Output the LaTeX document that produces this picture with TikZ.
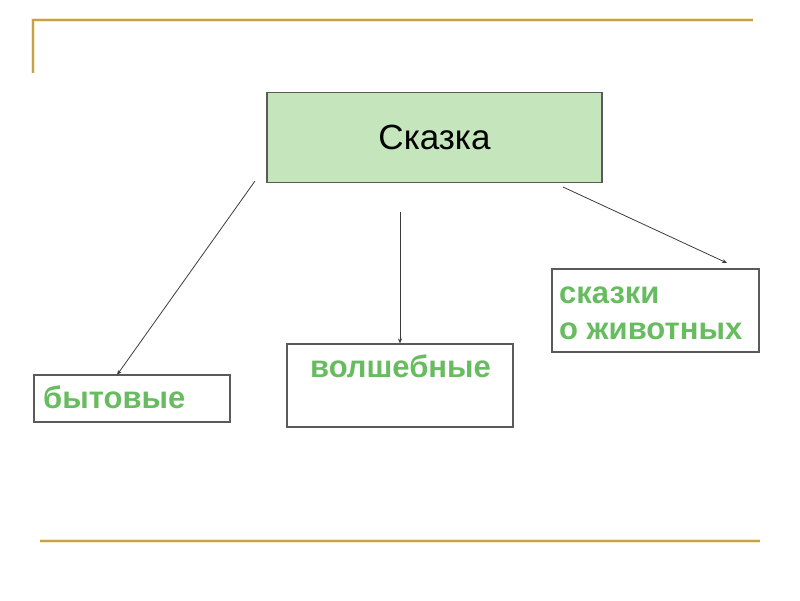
\documentclass[tikz,border=0pt]{standalone}
\usepackage{fontspec}
\setmainfont{Liberation Sans}
\usetikzlibrary{arrows.meta}
\definecolor{gold}{RGB}{196,160,82}
\definecolor{goldglow}{RGB}{250,236,190}
\definecolor{mainfill}{RGB}{197,229,189}
\definecolor{boxline}{RGB}{90,90,90}
\definecolor{greentext}{RGB}{104,188,96}
\definecolor{arrowgray}{RGB}{60,60,60}
\tikzset{
  goldline/.style={draw=gold, line width=2pt},
  glowline/.style={draw=goldglow, line width=4pt},
  mainbox/.style={draw=boxline, fill=mainfill, line width=1.1pt, rectangle, inner sep=0pt,
    font=\fontsize{35}{42}\selectfont},
  catbox/.style={draw=boxline, fill=white, line width=1.1pt, rectangle, inner sep=0pt},
  gtext/.style={text=greentext, inner sep=0pt, font=\bfseries\fontsize{31}{36}\selectfont, align=left},
  conn/.style={draw=arrowgray, line width=0.8pt, -{Stealth[length=5pt,width=4pt]}}
}
\begin{document}
\begin{tikzpicture}[x=1pt,y=-1pt]
\useasboundingbox (0,0) rectangle (800,600);
% decorative gold lines
\coordinate (tl) at (33,20);
\coordinate (tr) at (753,20);
\coordinate (lb) at (33,73);
\coordinate (bl) at (40,541);
\coordinate (br) at (760,541);
\draw[glowline] (lb) -- (tl) -- (tr);
\draw[glowline] (bl) -- (br);
\draw[goldline] (lb) -- (tl) -- (tr);
\draw[goldline] (bl) -- (br);
% main box
\node[mainbox, minimum width=335pt, minimum height=90pt] (main) at (434.5,137.5) {Сказка};
% category boxes
\node[catbox, minimum width=196pt, minimum height=47pt] (byt) at (132,398.5) {};
\node[gtext, anchor=base west] (bytt) at (43,408) {бытовые};
\node[catbox, minimum width=226pt, minimum height=83pt] (vol) at (400,385.5) {};
\node[gtext, anchor=base] (volt) at (400.5,377) {волшебные};
\node[catbox, minimum width=207pt, minimum height=83pt] (anim) at (655.5,310.5) {};
\node[gtext, anchor=west] (animt) at (559,313) {сказки\\о животных};
% connectors
\coordinate (s1) at (255,181);
\coordinate (s2) at (400,212);
\coordinate (s3) at (563,187);
\coordinate (e1) at (117,375);
\coordinate (e3) at (727,263);
\draw[conn] (s1) -- (e1);
\draw[conn] (s2) -- (vol.north);
\draw[conn] (s3) -- (e3);
\end{tikzpicture}
\end{document}
